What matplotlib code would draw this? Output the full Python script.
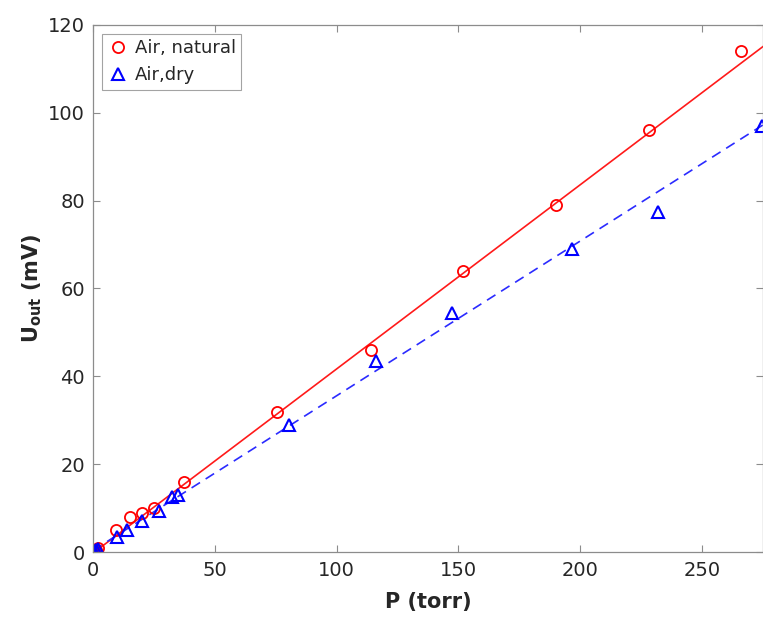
import matplotlib.pyplot as plt
import numpy as np

# Air, natural
p_nat = [0.0, 0.5, 1.0, 2.0, 9.5, 15.0, 20.0, 25.0, 37.5, 75.5, 114.0, 152.0, 190.0, 228.0, 266.0]
u_nat = [0.0, 0.3, 0.5, 1.0, 5.0, 8.0, 9.0, 10.0, 16.0, 32.0, 46.0, 64.0, 79.0, 96.0, 114.0]

# Air, dry
p_dry = [0.0, 0.5, 1.0, 2.0, 10.0, 14.0, 20.0, 27.0, 32.5, 35.0, 80.5, 116.0, 147.5, 196.5, 232.0, 274.5]
u_dry = [0.0, 0.2, 0.4, 0.8, 3.5, 5.0, 7.0, 9.3, 12.5, 13.0, 29.0, 43.5, 54.5, 69.0, 77.5, 97.0]

# linear fits (slope, intercept)
fit_nat = [0.419, -0.2]
fit_dry = [0.352, 0.4]

x_ticks = [0, 50, 100, 150, 200, 250]
y_ticks = [0, 20, 40, 60, 80, 100, 120]

plt.rcParams["font.family"] = ["DejaVu Sans"]
text_color = "#262626"
axis_color = "#8c8c8c"

fig = plt.figure(figsize=(7.63, 6.17), dpi=100)
ax = fig.add_axes([0.122, 0.105, 0.878, 0.855])

xx = np.array([0.0, 275.0])
ax.plot(xx, np.polyval(fit_nat, xx), color="#ff1a1a", linewidth=1.2)
ax.plot(xx, np.polyval(fit_dry, xx), color="#2b2bff", linewidth=1.2, linestyle=(0, (6, 4)))

ax.plot(p_nat, u_nat, linestyle="none", marker="o", markersize=8, markerfacecolor="none",
        markeredgecolor="red", markeredgewidth=1.3, label="Air, natural")
ax.plot(p_dry, u_dry, linestyle="none", marker="^", markersize=9, markerfacecolor="none",
        markeredgecolor="blue", markeredgewidth=1.5, label="Air,dry")

ax.set_xlim(0, 275)
ax.set_ylim(0, 120)
ax.set_xticks(x_ticks)
ax.set_yticks(y_ticks)
ax.tick_params(direction="in", top=True, right=True, length=5, width=0.8,
               color=axis_color, labelcolor=text_color, labelsize=14, pad=6)
for s in ax.spines.values():
    s.set_color(axis_color)
    s.set_linewidth(0.9)

ax.set_xlabel("P (torr)", fontsize=15, fontweight="bold", color=text_color, labelpad=9)
ax.set_ylabel(r"$\mathbf{U_{out}}$ (mV)", fontsize=15, fontweight="bold", color=text_color, labelpad=3)

leg = ax.legend(loc="upper left", fontsize=13, frameon=True, fancybox=False,
                handletextpad=0.3, handlelength=1.2, borderpad=0.3,
                bbox_to_anchor=(0.0, 1.0))
leg.get_frame().set_edgecolor(axis_color)
leg.get_frame().set_linewidth(0.8)
for t in leg.get_texts():
    t.set_color(text_color)

fig.savefig("out.png", dpi=100)
